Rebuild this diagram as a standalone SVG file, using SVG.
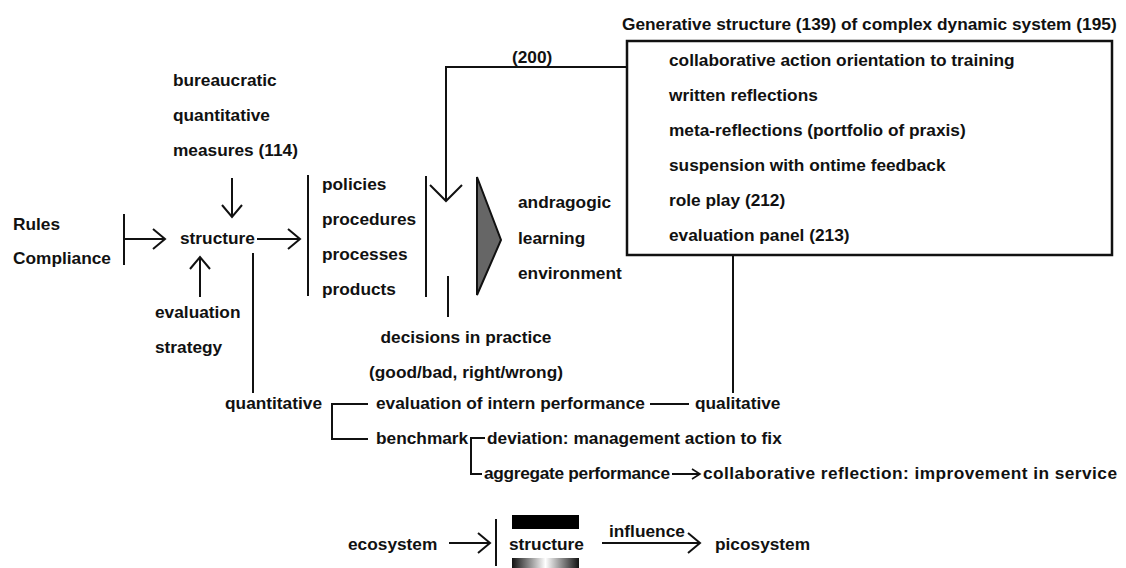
<svg xmlns="http://www.w3.org/2000/svg" width="1126" height="568" viewBox="0 0 1126 568">
  <defs>
    <style>
      text { font-family: "Liberation Sans", Arial, sans-serif; font-weight: bold; font-size: 17.3px; fill: #111; }
      .ln { fill: none; stroke: #111; stroke-width: 2; }
      .arr { fill: none; stroke: #111; stroke-width: 2; marker-end: url(#chev); }
      .mid { text-anchor: middle; }
      .end { text-anchor: end; }
    </style>
    <!-- open chevron arrowhead -->
    <marker id="chev" markerUnits="userSpaceOnUse" markerWidth="16" markerHeight="24" viewBox="-2 -2 16 24" refX="12" refY="10" orient="auto" overflow="visible">
      <path d="M0,0 L12,10 L0,20" fill="none" stroke="#111" stroke-width="2"/>
    </marker>
    <marker id="chevSmall" markerUnits="userSpaceOnUse" markerWidth="12" markerHeight="14" viewBox="-2 -2 12 14" refX="8" refY="5" orient="auto" overflow="visible">
      <path d="M0,0 L8,5 L0,10" fill="none" stroke="#111" stroke-width="1.6"/>
    </marker>
    <marker id="chevBig" markerUnits="userSpaceOnUse" markerWidth="20" markerHeight="36" viewBox="-2 -2 20 36" refX="16" refY="16" orient="auto" overflow="visible">
      <path d="M0,0 L16,16 L0,32" fill="none" stroke="#111" stroke-width="2"/>
    </marker>
    <linearGradient id="shade" x1="0" y1="0" x2="1" y2="0">
      <stop offset="0" stop-color="#111"/>
      <stop offset="0.5" stop-color="#fff"/>
      <stop offset="1" stop-color="#111"/>
    </linearGradient>
  </defs>

  <!-- connectors -->
  <g id="connectors">
    <line class="ln" x1="124" y1="214" x2="124" y2="265"/>
    <line class="arr" x1="124" y1="239" x2="165" y2="239"/>
    <line class="arr" x1="232" y1="178" x2="232" y2="217"/>
    <line class="arr" x1="200" y1="297" x2="200" y2="257"/>
    <line class="arr" x1="257" y1="239" x2="300" y2="239"/>
    <line class="ln" x1="308" y1="175" x2="308" y2="296"/>
    <line class="ln" x1="426" y1="176" x2="426" y2="297"/>
    <polyline class="ln" points="627,67 446,67 446,201" style="marker-end:url(#chevBig)"/>
    <line class="ln" x1="448" y1="276" x2="448" y2="317"/>
    <line class="ln" x1="253" y1="253" x2="253" y2="393"/>
    <line class="ln" x1="733" y1="255" x2="733" y2="393"/>
    <polyline class="ln" points="368,404 332,404 332,439 368,439"/>
    <line class="ln" x1="650" y1="404" x2="689" y2="404"/>
    <polyline class="ln" points="485,438 471,438 471,474 482,474"/>
    <line class="ln" x1="672" y1="474" x2="700" y2="474" style="marker-end:url(#chevSmall)"/>
    <line class="arr" x1="449" y1="543" x2="490" y2="543"/>
    <line class="ln" x1="496" y1="519" x2="496" y2="566"/>
    <line class="arr" x1="602" y1="543" x2="700" y2="543"/>
  </g>

  <g id="rules">
    <text x="13" y="230">Rules</text>
    <text x="13" y="264">Compliance</text>
  </g>

  <g id="measures">
    <text x="173" y="86">bureaucratic</text>
    <text x="173" y="121">quantitative</text>
    <text x="173" y="156">measures (114)</text>
  </g>

  <g id="structure">
    <text x="180" y="244">structure</text>
  </g>

  <g id="evaluation-strategy">
    <text x="155" y="318">evaluation</text>
    <text x="155" y="353">strategy</text>
  </g>

  <g id="outputs">
    <text x="322" y="190">policies</text>
    <text x="322" y="225">procedures</text>
    <text x="322" y="260">processes</text>
    <text x="322" y="295">products</text>
  </g>

  <g id="gate">
    <polygon points="477,177 501,240 477,295" fill="#666" stroke="#111" stroke-width="2" stroke-linejoin="miter"/>
  </g>

  <g id="environment">
    <text x="518" y="208">andragogic</text>
    <text x="518" y="244">learning</text>
    <text x="518" y="279">environment</text>
  </g>

  <g id="decisions">
    <text class="mid" x="466" y="343">decisions in practice</text>
    <text class="mid" x="466" y="378">(good/bad, right/wrong)</text>
  </g>

  <g id="generative-structure">
    <text x="622" y="30">Generative structure (139) of complex dynamic system (195)</text>
    <rect x="627" y="41" width="485" height="214" fill="none" stroke="#111" stroke-width="2.5"/>
    <text x="669" y="66">collaborative action orientation to training</text>
    <text x="669" y="101">written reflections</text>
    <text x="669" y="136">meta-reflections (portfolio of praxis)</text>
    <text x="669" y="171">suspension with ontime feedback</text>
    <text x="669" y="206">role play (212)</text>
    <text x="669" y="241">evaluation panel (213)</text>
  </g>

  <g id="label-200">
    <text x="512" y="63">(200)</text>
  </g>

  <g id="quantitative">
    <text class="end" x="322" y="409">quantitative</text>
  </g>
  <g id="intern-evaluation">
    <text x="376" y="409">evaluation of intern performance</text>
  </g>
  <g id="qualitative">
    <text x="695" y="409">qualitative</text>
  </g>
  <g id="benchmark">
    <text x="376" y="444">benchmark</text>
  </g>
  <g id="deviation">
    <text x="487" y="444">deviation: management action to fix</text>
  </g>
  <g id="aggregate">
    <text x="484" y="479" textLength="186">aggregate performance</text>
  </g>
  <g id="collaborative-reflection">
    <text x="703" y="479" textLength="414">collaborative reflection: improvement in service</text>
  </g>

  <g id="ecosystem">
    <text x="348" y="550">ecosystem</text>
  </g>
  <g id="structure-bar">
    <rect x="512" y="515" width="67" height="14" fill="#000"/>
    <text x="509" y="550">structure</text>
    <rect x="512" y="558" width="67" height="12" fill="url(#shade)"/>
  </g>
  <g id="influence">
    <text x="609" y="537">influence</text>
  </g>
  <g id="picosystem">
    <text x="715" y="550">picosystem</text>
  </g>
</svg>
